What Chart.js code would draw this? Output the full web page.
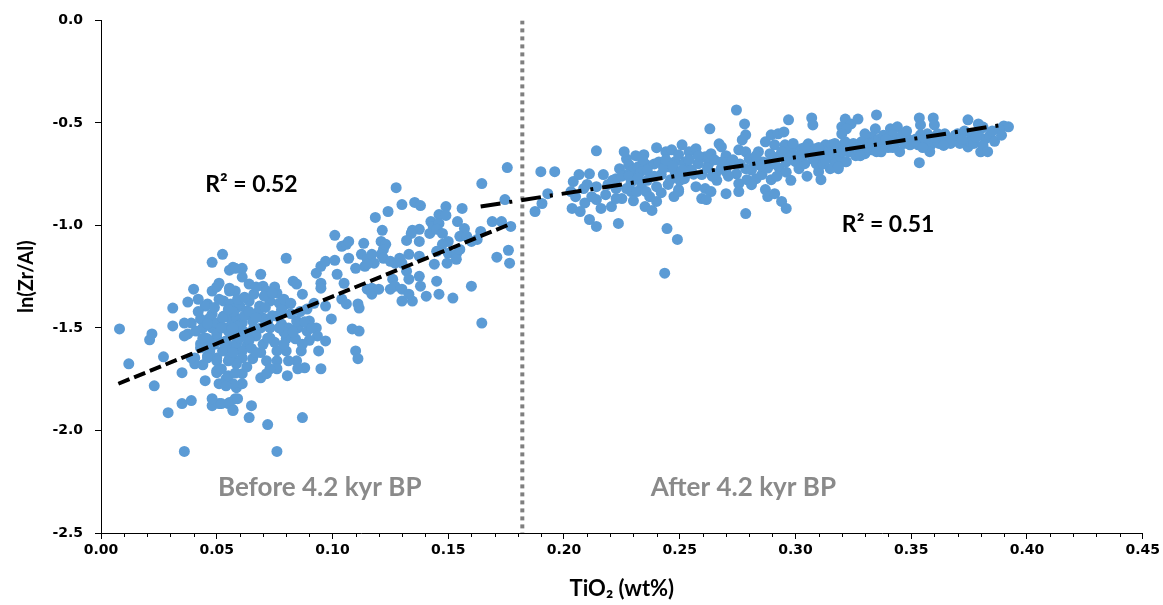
<!DOCTYPE html>
<html>
<head>
<meta charset="utf-8">
<script src="https://cdn.jsdelivr.net/npm/chart.js@4.4.0/dist/chart.umd.min.js"></script>
<style>
  html, body { margin: 0; padding: 0; background: #fff; }
  #wrap { width: 1163px; height: 605px; }
</style>
</head>
<body>
<div id="wrap"><canvas id="chart" width="1163" height="605"></canvas></div>
<script>
// TiO2 (wt%) vs ln(Zr/Al), samples before 4.2 kyr BP
const beforeData = [
  [0.008,-1.505],[0.012,-1.675],[0.021,-1.558],[0.022,-1.529],[0.023,-1.782],[0.027,-1.641],[0.029,-1.913],
  [0.031,-1.403],[0.031,-1.490],[0.035,-1.718],[0.0375,-1.374],[0.040,-1.311],[0.035,-1.869],[0.039,-1.854],
  [0.036,-2.102],[0.048,-1.180],[0.0525,-1.141],[0.0555,-1.218],[0.057,-1.204],[0.051,-1.282],[0.048,-1.320],
  [0.053,-1.369],[0.046,-1.383],[0.039,-1.476],[0.0375,-1.529],[0.043,-1.456],[0.045,-1.549],[0.048,-1.500],
  [0.050,-1.549],[0.0405,-1.646],[0.046,-1.636],[0.050,-1.646],[0.050,-1.718],[0.045,-1.757],[0.051,-1.772],
  [0.054,-1.748],[0.048,-1.879],[0.051,-1.869],[0.055,-1.869],[0.057,-1.898],[0.055,-1.660],[0.0555,-1.597],
  [0.0585,-1.578],[0.054,-1.500],[0.056,-1.456],[0.0585,-1.529],[0.056,-1.383],[0.058,-1.320],[0.0555,-1.320],
  [0.0585,-1.403],[0.048,-1.432],[0.053,-1.442],[0.043,-1.578],[0.047,-1.597],[0.0585,-1.791],[0.058,-1.845],
  [0.061,-1.252],[0.069,-1.238],[0.080,-1.160],[0.036,-1.476],[0.036,-1.539],[0.045,-1.393],[0.0555,-1.306],
  [0.064,-1.286],[0.070,-1.296],[0.0715,-1.320],[0.060,-1.393],[0.064,-1.369],[0.0685,-1.393],[0.073,-1.369],
  [0.076,-1.330],[0.077,-1.379],[0.080,-1.383],[0.083,-1.272],[0.0845,-1.286],[0.087,-1.335],[0.093,-1.233],
  [0.095,-1.199],[0.097,-1.175],[0.101,-1.170],[0.102,-1.238],[0.095,-1.282],[0.095,-1.306],[0.097,-1.393],
  [0.0995,-1.456],[0.089,-1.408],[0.090,-1.466],[0.085,-1.500],[0.089,-1.515],[0.093,-1.500],[0.0935,-1.539],
  [0.097,-1.563],[0.094,-1.612],[0.095,-1.699],[0.0865,-1.612],[0.0845,-1.660],[0.088,-1.694],[0.080,-1.612],
  [0.081,-1.660],[0.085,-1.699],[0.076,-1.612],[0.076,-1.660],[0.076,-1.699],[0.0715,-1.660],[0.073,-1.699],
  [0.069,-1.743],[0.0715,-1.723],[0.0805,-1.733],[0.0655,-1.650],[0.063,-1.587],[0.061,-1.612],[0.061,-1.646],
  [0.0585,-1.660],[0.061,-1.723],[0.061,-1.772],[0.057,-1.772],[0.0585,-1.675],[0.050,-1.709],[0.054,-1.782],
  [0.055,-1.733],[0.0405,-1.675],[0.048,-1.845],[0.052,-1.869],[0.0555,-1.864],[0.059,-1.845],[0.057,-1.903],
  [0.065,-1.879],[0.064,-1.937],[0.072,-1.971],[0.087,-1.937],
  [0.044,-1.500],[0.047,-1.451],[0.050,-1.476],[0.0525,-1.451],[0.055,-1.515],[0.0585,-1.451],[0.061,-1.476],
  [0.063,-1.417],[0.0655,-1.466],[0.070,-1.451],[0.073,-1.500],[0.076,-1.442],[0.078,-1.481],[0.081,-1.500],
  [0.0845,-1.466],[0.080,-1.553],[0.084,-1.553],[0.073,-1.549],[0.067,-1.539],[0.063,-1.529],[0.0585,-1.573],
  [0.054,-1.563],[0.050,-1.529],[0.046,-1.553],[0.041,-1.515],[0.043,-1.597],[0.047,-1.612],[0.0525,-1.612],
  [0.0555,-1.646],[0.050,-1.660],[0.046,-1.646],[0.039,-1.646],
  [0.066,-1.335],[0.0705,-1.345],[0.075,-1.300],[0.068,-1.420],[0.078,-1.410],[0.072,-1.470],[0.082,-1.430],
  [0.062,-1.440],[0.057,-1.420],[0.066,-1.500],[0.079,-1.520],[0.088,-1.470],[0.059,-1.490],[0.064,-1.560],
  [0.070,-1.580],[0.075,-1.570],[0.090,-1.560],[0.087,-1.580],
  [0.042,-1.420],[0.044,-1.550],[0.046,-1.480],[0.049,-1.400],[0.049,-1.580],[0.051,-1.360],[0.052,-1.500],
  [0.053,-1.570],[0.055,-1.410],[0.057,-1.500],[0.057,-1.620],[0.059,-1.360],[0.060,-1.550],[0.062,-1.350],
  [0.062,-1.520],[0.064,-1.420],[0.065,-1.600],[0.067,-1.300],[0.067,-1.450],[0.069,-1.500],[0.069,-1.620],
  [0.071,-1.400],[0.072,-1.550],[0.074,-1.440],[0.074,-1.330],[0.077,-1.500],[0.079,-1.360],[0.079,-1.580],
  [0.082,-1.380],[0.083,-1.520],[0.086,-1.420],[0.091,-1.500],[0.092,-1.380],[0.044,-1.680],[0.052,-1.700],
  [0.058,-1.720],[0.063,-1.690],[0.067,-1.620],[0.042,-1.360],[0.050,-1.300],
  [0.104,-1.102],[0.106,-1.092],[0.107,-1.078],[0.107,-1.160],[0.1125,-1.141],[0.110,-1.209],[0.114,-1.199],
  [0.115,-1.165],[0.105,-1.282],[0.104,-1.359],[0.106,-1.383],[0.111,-1.383],[0.1115,-1.403],[0.1085,-1.505],
  [0.1115,-1.515],[0.110,-1.612],[0.111,-1.650],[0.115,-1.311],[0.076,-2.102],[0.061,-1.209],[0.058,-1.209],
  [0.101,-1.048],
  [0.1755,-0.718],[0.1645,-0.796],[0.1745,-0.874],[0.1275,-0.816],[0.130,-0.898],[0.1355,-0.888],[0.138,-0.903],
  [0.124,-0.932],[0.1185,-0.961],[0.149,-0.908],[0.156,-0.917],[0.146,-0.947],[0.149,-0.951],[0.1425,-0.981],
  [0.1435,-1.005],[0.146,-0.990],[0.154,-0.981],[0.157,-1.015],[0.1375,-1.019],[0.1345,-1.024],[0.134,-1.039],
  [0.1215,-1.024],[0.132,-1.073],[0.1375,-1.078],[0.142,-1.039],[0.145,-1.019],[0.1475,-1.039],[0.150,-1.078],
  [0.155,-1.053],[0.158,-1.053],[0.160,-1.078],[0.1625,-1.068],[0.164,-1.029],[0.169,-0.981],[0.173,-0.981],
  [0.177,-1.005],[0.1135,-1.087],[0.121,-1.078],[0.123,-1.092],[0.122,-1.117],[0.121,-1.141],[0.133,-1.141],
  [0.1375,-1.150],[0.1475,-1.092],[0.145,-1.126],[0.150,-1.136],[0.1535,-1.141],[0.155,-1.117],[0.1535,-1.165],
  [0.1495,-1.184],[0.144,-1.189],[0.176,-1.121],[0.1765,-1.184],[0.171,-1.155],[0.117,-1.141],[0.118,-1.184],
  [0.115,-1.189],[0.122,-1.160],[0.125,-1.175],[0.127,-1.184],[0.129,-1.160],[0.132,-1.223],[0.130,-1.184],
  [0.1375,-1.248],[0.133,-1.262],[0.126,-1.262],[0.127,-1.296],[0.130,-1.311],[0.130,-1.369],[0.1345,-1.369],
  [0.133,-1.335],[0.117,-1.306],[0.117,-1.335],[0.120,-1.311],[0.125,-1.311],[0.138,-1.296],[0.1405,-1.345],
  [0.145,-1.272],[0.146,-1.335],[0.152,-1.354],[0.160,-1.296],[0.1645,-1.476]
];

// samples after 4.2 kyr BP
const afterData = [
  [0.190,-0.738],[0.196,-0.738],[0.214,-0.636],[0.1875,-0.932],[0.193,-0.845],[0.1905,-0.893],[0.203,-0.835],
  [0.2035,-0.917],[0.207,-0.932],[0.204,-0.786],[0.2065,-0.752],[0.211,-0.748],[0.2085,-0.820],[0.214,-0.811],
  [0.217,-0.752],[0.214,-0.874],[0.216,-0.917],[0.2205,-0.908],[0.218,-0.850],[0.211,-0.971],[0.214,-1.005],
  [0.2235,-0.990],[0.2225,-0.772],[0.224,-0.723],[0.227,-0.675],[0.228,-0.704],[0.230,-0.728],[0.227,-0.752],
  [0.2225,-0.820],[0.227,-0.820],[0.229,-0.835],[0.225,-0.869],[0.2225,-0.869],[0.2345,-0.655],[0.232,-0.714],
  [0.2355,-0.704],[0.2375,-0.762],[0.2335,-0.796],[0.2315,-0.835],[0.2355,-0.835],[0.240,-0.811],[0.235,-0.908],
  [0.238,-0.927],[0.240,-0.883],[0.240,-0.621],[0.244,-0.641],[0.2465,-0.631],[0.248,-0.689],[0.245,-0.714],
  [0.242,-0.752],[0.246,-0.777],[0.2495,-0.825],[0.2475,-0.859],[0.251,-0.607],[0.2495,-0.655],[0.2525,-0.689],
  [0.2525,-0.752],[0.2445,-1.015],[0.249,-1.068],[0.2435,-1.233],
  [0.205,-0.860],[0.209,-0.890],[0.212,-0.860],[0.210,-0.800],
  [0.219,-0.800],[0.221,-0.780],[0.225,-0.760],[0.229,-0.790],[0.233,-0.740],[0.236,-0.780],[0.239,-0.700],
  [0.241,-0.690],[0.243,-0.720],[0.237,-0.860],[0.230,-0.880],[0.245,-0.800],[0.242,-0.840],[0.248,-0.740],
  [0.250,-0.780],[0.234,-0.680],[0.226,-0.640],[0.231,-0.660],
  [0.2745,-0.437],[0.278,-0.505],[0.263,-0.529],[0.297,-0.485],[0.307,-0.476],[0.3075,-0.510],[0.3215,-0.481],
  [0.320,-0.519],[0.254,-0.641],[0.257,-0.626],[0.261,-0.665],[0.2635,-0.650],[0.267,-0.602],[0.268,-0.617],
  [0.2625,-0.699],[0.258,-0.699],[0.252,-0.699],[0.255,-0.728],[0.2595,-0.752],[0.2655,-0.748],[0.270,-0.738],
  [0.252,-0.772],[0.2495,-0.835],[0.257,-0.811],[0.261,-0.820],[0.2635,-0.835],[0.2595,-0.869],[0.2615,-0.874],
  [0.270,-0.845],[0.2785,-0.558],[0.277,-0.583],[0.2755,-0.631],[0.2785,-0.641],[0.280,-0.675],[0.282,-0.699],
  [0.2785,-0.723],[0.2745,-0.748],[0.2755,-0.796],[0.279,-0.777],[0.283,-0.772],[0.2755,-0.835],[0.281,-0.801],
  [0.287,-0.592],[0.2895,-0.558],[0.2925,-0.553],[0.295,-0.544],[0.291,-0.607],[0.2955,-0.607],[0.298,-0.631],
  [0.2925,-0.665],[0.2955,-0.675],[0.300,-0.689],[0.3015,-0.723],[0.304,-0.699],[0.3025,-0.626],[0.3055,-0.602],
  [0.3085,-0.626],[0.311,-0.665],[0.313,-0.607],[0.3155,-0.607],[0.3185,-0.617],[0.3215,-0.592],[0.317,-0.689],
  [0.3185,-0.723],[0.3215,-0.689],[0.315,-0.723],[0.310,-0.738],[0.287,-0.825],[0.288,-0.859],[0.291,-0.845],
  [0.294,-0.883],[0.296,-0.917],[0.2785,-0.942],[0.311,-0.777],[0.2855,-0.752],[0.2895,-0.777],
  [0.265,-0.680],[0.268,-0.720],[0.266,-0.780],[0.270,-0.660],[0.272,-0.700],
  [0.284,-0.640],[0.286,-0.690],[0.288,-0.720],[0.290,-0.680],[0.293,-0.720],[0.297,-0.660],[0.299,-0.600],
  [0.296,-0.740],[0.292,-0.760],[0.298,-0.780],
  [0.303,-0.660],[0.306,-0.640],[0.308,-0.680],[0.309,-0.700],[0.312,-0.640],[0.314,-0.660],[0.316,-0.640],
  [0.319,-0.660],[0.305,-0.760],[0.312,-0.700],
  [0.324,-0.505],[0.327,-0.481],[0.322,-0.529],[0.320,-0.553],[0.335,-0.461],[0.3345,-0.529],[0.333,-0.568],
  [0.330,-0.553],[0.3285,-0.592],[0.3315,-0.602],[0.3345,-0.592],[0.3365,-0.607],[0.337,-0.641],[0.333,-0.631],
  [0.329,-0.626],[0.341,-0.529],[0.344,-0.519],[0.342,-0.558],[0.3455,-0.583],[0.3415,-0.592],[0.339,-0.602],
  [0.3535,-0.476],[0.354,-0.510],[0.3595,-0.476],[0.360,-0.510],[0.357,-0.553],[0.354,-0.558],[0.352,-0.578],
  [0.3485,-0.578],[0.3495,-0.607],[0.353,-0.607],[0.3585,-0.607],[0.3615,-0.592],[0.3645,-0.553],[0.3615,-0.553],
  [0.3535,-0.694],[0.3745,-0.485],[0.379,-0.505],[0.380,-0.529],[0.379,-0.558],[0.376,-0.558],[0.382,-0.578],
  [0.3745,-0.617],[0.380,-0.641],[0.3755,-0.592],[0.370,-0.553],[0.369,-0.583],[0.392,-0.519],[0.390,-0.515],
  [0.322,-0.689],[0.3185,-0.714],[0.323,-0.641],
  [0.325,-0.600],[0.327,-0.620],[0.330,-0.650],[0.333,-0.600],[0.336,-0.580],[0.338,-0.560],[0.340,-0.620],
  [0.343,-0.600],[0.346,-0.560],[0.348,-0.540],[0.326,-0.660],[0.345,-0.640],
  [0.356,-0.580],[0.358,-0.640],[0.362,-0.600],[0.365,-0.580],[0.367,-0.600],[0.371,-0.600],[0.373,-0.540],
  [0.377,-0.600],[0.381,-0.610],[0.384,-0.560],[0.386,-0.590],[0.388,-0.530],[0.383,-0.640],[0.381,-0.520],
  [0.228,-0.760],[0.232,-0.770],[0.236,-0.730],[0.239,-0.760],[0.244,-0.680],[0.247,-0.710],[0.251,-0.730],
  [0.254,-0.680],[0.256,-0.750],[0.258,-0.660],[0.262,-0.720],[0.264,-0.760],[0.268,-0.690],[0.271,-0.760],
  [0.273,-0.680],[0.276,-0.700],[0.281,-0.730],[0.283,-0.660],[0.285,-0.710],[0.289,-0.650],[0.291,-0.700],
  [0.294,-0.640],[0.296,-0.690],[0.301,-0.660],[0.304,-0.620],[0.307,-0.660],[0.310,-0.620],[0.313,-0.680],
  [0.317,-0.600],[0.320,-0.640],[0.324,-0.620],[0.328,-0.660],[0.331,-0.620],[0.335,-0.640],[0.339,-0.580],
  [0.342,-0.620],[0.347,-0.600],[0.351,-0.590],[0.355,-0.620],[0.360,-0.570],[0.364,-0.610],[0.369,-0.560],
  [0.372,-0.580],[0.378,-0.570],[0.385,-0.540],[0.389,-0.560]
];

// linear trend lines, end points
const trendBefore = [[0.0075, -1.772], [0.1775, -0.990]];
const trendAfter = [[0.164, -0.908], [0.389, -0.510]];

// boundary at 4.2 kyr BP
const boundaryLine = [[0.182, 0], [0.182, -2.5]];

const xTicks = [0, 0.05, 0.10, 0.15, 0.20, 0.25, 0.30, 0.35, 0.40, 0.45];
const yTicks = [0, -0.5, -1.0, -1.5, -2.0, -2.5];

const toXY = (arr) => arr.map((p) => ({ x: p[0], y: p[1] }));

const BLUE = "#5B9BD5";

// Text labels drawn inside the plot (R², periods)
const labelPlugin = {
  id: "labels",
  afterDatasetsDraw(chart) {
    const { ctx, scales } = chart;
    const items = [
      { text: "R² = 0.52", x: 0.065, y: -0.80, color: "#000", font: "bold 23px Lato" },
      { text: "R² = 0.51", x: 0.340, y: -0.995, color: "#000", font: "bold 23px Lato" },
      { text: "Before 4.2 kyr BP", x: 0.0945, y: -2.28, color: "#8a8a8a", font: "bold 26px Lato" },
      { text: "After 4.2 kyr BP", x: 0.2775, y: -2.28, color: "#8a8a8a", font: "bold 26px Lato" },
    ];
    ctx.save();
    ctx.textAlign = "center";
    ctx.textBaseline = "middle";
    items.forEach((it) => {
      ctx.font = it.font;
      ctx.fillStyle = it.color;
      ctx.fillText(it.text, scales.x.getPixelForValue(it.x), scales.y.getPixelForValue(it.y));
    });
    ctx.restore();
  },
  afterDraw(chart) {
    // minor ticks on the x axis every 0.01
    const { ctx, scales } = chart;
    const xs = scales.x;
    ctx.save();
    ctx.strokeStyle = "#000";
    ctx.lineWidth = 1;
    for (let i = 1; i < 45; i++) {
      if (i % 5 === 0) continue;
      const px = Math.round(xs.getPixelForValue(i / 100)) + 0.5;
      ctx.beginPath();
      ctx.moveTo(px, xs.top);
      ctx.lineTo(px, xs.top + 4);
      ctx.stroke();
    }
    ctx.restore();
  },
};

new Chart(document.getElementById("chart"), {
  type: "scatter",
  data: {
    datasets: [
      {
        label: "Before",
        data: toXY(beforeData),
        backgroundColor: BLUE,
        borderWidth: 0,
        pointRadius: 5.5,
        order: 3,
      },
      {
        label: "After",
        data: toXY(afterData),
        backgroundColor: BLUE,
        borderWidth: 0,
        pointRadius: 5.5,
        order: 3,
      },
      {
        label: "4.2 kyr",
        data: toXY(boundaryLine),
        showLine: true,
        pointRadius: 0,
        borderColor: "#7f7f7f",
        borderWidth: 4,
        borderDash: [4, 4],
        borderCapStyle: "butt",
        order: 2,
      },
      {
        label: "Trend before",
        data: toXY(trendBefore),
        showLine: true,
        pointRadius: 0,
        borderColor: "#000",
        borderWidth: 4,
        borderDash: [12, 5],
        borderCapStyle: "butt",
        order: 1,
      },
      {
        label: "Trend after",
        data: toXY(trendAfter),
        showLine: true,
        pointRadius: 0,
        borderColor: "#000",
        borderWidth: 4,
        borderDash: [20, 9, 3, 9],
        borderCapStyle: "butt",
        order: 1,
      },
    ],
  },
  options: {
    responsive: false,
    devicePixelRatio: 1,
    animation: false,
    layout: { padding: { top: 18, right: 18, left: 0, bottom: 0 } },
    plugins: {
      legend: { display: false },
      tooltip: { enabled: false },
    },
    scales: {
      x: {
        type: "linear",
        min: 0,
        max: 0.45,
        afterFit: (s) => { s.height = 72; },
        afterBuildTicks: (s) => { s.ticks = xTicks.map((v) => ({ value: v })); },
        ticks: {
          callback: (v) => Number(v).toFixed(2),
          font: { family: "'DejaVu Sans'", size: 14, weight: "bold" },
          color: "#000",
          padding: 3,
          maxRotation: 0,
          autoSkip: false,
        },
        grid: { drawOnChartArea: false, drawTicks: true, tickLength: 6, tickColor: "#000" },
        border: { display: true, color: "#000", width: 1 },
        title: {
          display: true,
          text: "TiO₂ (wt%)",
          font: { family: "Lato, 'Noto Sans'", size: 22, weight: "bold" },
          color: "#000",
          padding: { top: 0, bottom: 3 },
        },
      },
      y: {
        type: "linear",
        min: -2.5,
        max: 0,
        afterFit: (s) => { s.width = 101; },
        afterBuildTicks: (s) => { s.ticks = yTicks.map((v) => ({ value: v })); },
        ticks: {
          callback: (v) => Number(v).toFixed(1),
          font: { family: "'DejaVu Sans'", size: 14, weight: "bold" },
          color: "#000",
          padding: 12,
        },
        grid: { drawOnChartArea: false, drawTicks: true, tickLength: 6, tickColor: "#000" },
        border: { display: true, color: "#000", width: 1 },
        title: {
          display: true,
          text: "ln(Zr/Al)",
          font: { family: "Lato", size: 20, weight: "bold" },
          color: "#000",
          padding: { top: 15, bottom: 0 },
        },
      },
    },
  },
  plugins: [labelPlugin],
});
</script>
</body>
</html>
